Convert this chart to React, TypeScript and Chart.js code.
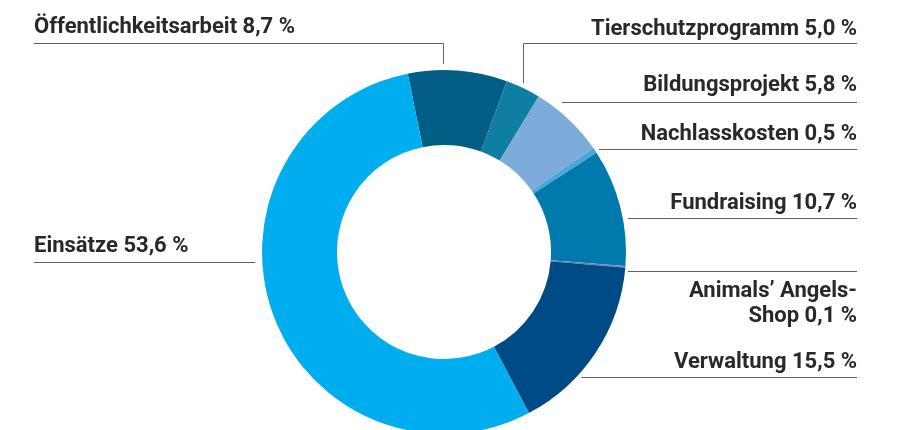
import React, { useEffect, useRef } from "react";
import { Chart, registerables } from "chart.js";

Chart.register(...registerables);

// ---- data ----
const categories = [
  "Öffentlichkeitsarbeit",
  "Tierschutzprogramm",
  "Bildungsprojekt",
  "Nachlasskosten",
  "Fundraising",
  "Animals’ Angels-Shop",
  "Verwaltung",
  "Einsätze",
];
// percentages as printed in the labels
const printedShares = ["8,7 %", "5,0 %", "5,8 %", "0,5 %", "10,7 %", "0,1 %", "15,5 %", "53,6 %"];
// slice sizes as drawn in the reference ring
const drawnShares = [8.8, 3.1, 6.6, 0.5, 10.4, 0.15, 15.9, 54.5];
const sliceColors = ["#025E85", "#0E7EA3", "#7EACDA", "#48A8D6", "#0079AD", "#6C88BC", "#004B85", "#00AEEF"];

// ---- label layout (positions only) ----
type Layout = {
  side: "left" | "right";
  baselines: number[];
  lineY: number;
  gap: number;
  drop?: "mid" | number; // vertical leader to the ring: at slice middle, or at a given angle (deg from top)
  breakAfter?: string;
};
const labelLayout: Layout[] = [
  { side: "left", baselines: [33], lineY: 43, gap: 6, drop: -0.3 },
  { side: "right", baselines: [35], lineY: 43, gap: 5, drop: "mid" },
  { side: "right", baselines: [91], lineY: 102, gap: 15 },
  { side: "right", baselines: [140], lineY: 149, gap: 5 },
  { side: "right", baselines: [209], lineY: 218, gap: 5 },
  { side: "right", baselines: [297, 322], lineY: 271, gap: 3, breakAfter: "Angels-" },
  { side: "right", baselines: [368], lineY: 377, gap: 5 },
  { side: "left", baselines: [252], lineY: 262, gap: 7 },
];
const TEXT_LEFT = 34;
const TEXT_RIGHT = 857;

const W = 897;
const H = 430;
const CANVAS_H = 470;

const labelPlugin = {
  id: "leaderLabels",
  afterDraw(chart: any) {
    const meta = chart.getDatasetMeta(0);
    if (!meta || !meta.data.length) return;
    const ctx = chart.ctx as CanvasRenderingContext2D;
    const first = meta.data[0];
    const cx = first.x;
    const cy = first.y;
    const R = first.outerRadius;
    ctx.save();
    ctx.font = "bold 22px Roboto, 'Noto Sans', sans-serif";
    ctx.fillStyle = "#2a2829";
    ctx.textBaseline = "alphabetic";
    ctx.strokeStyle = "#606060";
    ctx.lineWidth = 1;
    categories.forEach((cat, i) => {
      const lay = labelLayout[i];
      const full = `${cat} ${printedShares[i]}`;
      let lines = [full];
      if (lay.breakAfter) {
        const k = full.indexOf(lay.breakAfter) + lay.breakAfter.length;
        lines = [full.slice(0, k), full.slice(k)];
      }
      ctx.textAlign = lay.side === "left" ? "left" : "right";
      const tx = lay.side === "left" ? TEXT_LEFT : TEXT_RIGHT;
      lines.forEach((ln, j) => ctx.fillText(ln, tx, lay.baselines[j]));

      const ly = Math.round(lay.lineY) + 0.5;
      ctx.beginPath();
      if (lay.drop !== undefined) {
        let vx: number;
        if (lay.drop === "mid") {
          const el = meta.data[i];
          const mid = (el.startAngle + el.endAngle) / 2;
          vx = cx + R * Math.cos(mid);
        } else {
          vx = cx + R * Math.sin((lay.drop * Math.PI) / 180);
        }
        vx = Math.round(vx) + 0.5;
        const vy = cy - Math.sqrt(Math.max(R * R - (vx - cx) * (vx - cx), 0)) - lay.gap;
        if (lay.side === "left") {
          ctx.moveTo(TEXT_LEFT, ly);
          ctx.lineTo(vx, ly);
        } else {
          ctx.moveTo(TEXT_RIGHT, ly);
          ctx.lineTo(vx, ly);
        }
        ctx.lineTo(vx, vy);
      } else {
        const dx = Math.sqrt(Math.max(R * R - (lay.lineY - cy) * (lay.lineY - cy), 0));
        if (lay.side === "left") {
          ctx.moveTo(TEXT_LEFT, ly);
          ctx.lineTo(cx - dx - lay.gap, ly);
        } else {
          ctx.moveTo(cx + dx + lay.gap, ly);
          ctx.lineTo(TEXT_RIGHT, ly);
        }
      }
      ctx.stroke();
    });
    ctx.restore();
  },
};

export default function App() {
  const ref = useRef<HTMLCanvasElement | null>(null);
  useEffect(() => {
    if (!ref.current) return;
    const chart = new Chart(ref.current, {
      type: "doughnut",
      data: {
        labels: categories,
        datasets: [
          {
            data: drawnShares,
            backgroundColor: sliceColors,
            borderWidth: 0,
          },
        ],
      },
      options: {
        responsive: false,
        animation: false,
        devicePixelRatio: 1,
        events: [],
        rotation: -11.5,
        cutout: "58.8%",
        layout: { padding: { left: 262, right: 271, top: 70, bottom: CANVAS_H - 434 } },
        plugins: {
          legend: { display: false },
          tooltip: { enabled: false },
        },
      },
      plugins: [labelPlugin],
    });
    return () => chart.destroy();
  }, []);
  return (
    <div
      style={{
        position: "absolute",
        left: 0,
        top: 0,
        width: W,
        height: H,
        overflow: "hidden",
        background: "#ffffff",
      }}
    >
      <canvas ref={ref} width={W} height={CANVAS_H} style={{ width: W, height: CANVAS_H, display: "block" }} />
    </div>
  );
}
